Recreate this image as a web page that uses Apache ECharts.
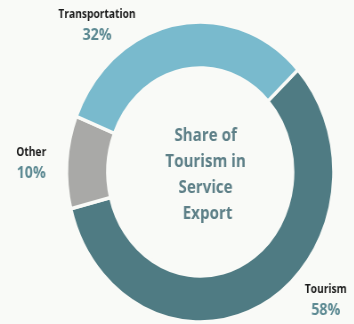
<!DOCTYPE html>
<html><head><meta charset="utf-8">
<script src="https://cdn.jsdelivr.net/npm/echarts@6/dist/echarts.min.js"></script>
<style>
html,body{margin:0;padding:0;background:#f9faf7;overflow:hidden;}
#wrap{width:354px;height:324px;overflow:hidden;}
#c{width:398px;height:324px;transform:scaleX(0.89);transform-origin:0 0;}
</style></head>
<body><div id="wrap"><div id="c"></div></div>
<script>
const categories = ['Tourism', 'Other', 'Transportation'];
const values = [58, 10, 32];
const centerTitle = 'Share of\nTourism in\nService\n Export';

const colors = ['#4f7b83', '#a9a9a7', '#79bacd'];
const labelPos = [[366, 300], [35, 163], [109, 25]];

const chart = echarts.init(document.getElementById('c'), null, {renderer: 'canvas'});
chart.setOption({
  backgroundColor: '#f9faf7',
  animation: false,
  title: {
    text: centerTitle,
    left: 226, top: 118,
    textAlign: 'center',
    textStyle: {fontFamily: 'Open Sans', fontWeight: 'bold', fontSize: 17, lineHeight: 26, color: '#5e8088'}
  },
  series: [{
    type: 'pie',
    center: [225, 172],
    radius: [104, 150],
    startAngle: 43,
    clockwise: true,
    data: categories.map((n, i) => ({name: n, value: values[i], itemStyle: {color: colors[i]}})),
    itemStyle: {borderColor: '#f9faf7', borderWidth: 3.5},
    emphasis: {disabled: true},
    labelLine: {show: false},
    label: {
      show: true,
      position: 'outside',
      overflow: 'none',
      width: 120,
      formatter: '{n|{b}}\n{v|{c}%}',
      rich: {
        n: {fontFamily: 'Open Sans', fontWeight: 'bold', fontSize: 11.5, color: '#1c1c1c', lineHeight: 21, align: 'center'},
        v: {fontFamily: 'Open Sans', fontWeight: 'bold', fontSize: 16, color: '#5d8a93', lineHeight: 21, align: 'center'}
      }
    },
    labelLayout: function (p) {
      const pos = labelPos[p.dataIndex];
      return {x: pos[0], y: pos[1], align: 'center', verticalAlign: 'middle'};
    }
  }]
});
</script></body></html>
